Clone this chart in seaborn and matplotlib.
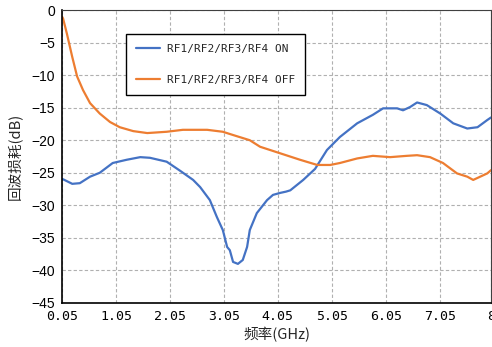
import matplotlib
matplotlib.use("Agg")
import matplotlib.pyplot as plt
import seaborn as sns
import pandas as pd

# Return loss, all four RF paths switched ON
freq_on = [0.05, 0.07, 0.24, 0.38, 0.57, 0.75, 0.99, 1.25, 1.50, 1.68, 1.99, 2.24,
           2.48, 2.61, 2.79, 2.92, 3.03, 3.11, 3.16, 3.22, 3.31, 3.40, 3.48, 3.53,
           3.66, 3.85, 3.96, 4.09, 4.20, 4.28, 4.52, 4.74, 4.96, 5.20, 5.52, 5.81,
           6.00, 6.26, 6.37, 6.50, 6.63, 6.81, 7.06, 7.30, 7.56, 7.75, 7.93, 8.00]
rl_on = [-26.0, -26.0, -26.7, -26.6, -25.6, -25.0, -23.5, -23.0, -22.6, -22.7, -23.3, -24.7,
         -26.1, -27.2, -29.2, -31.8, -33.8, -36.4, -36.9, -38.7, -39.0, -38.4, -36.4, -33.8,
         -31.2, -29.2, -28.4, -28.1, -27.9, -27.7, -26.1, -24.4, -21.5, -19.5, -17.4, -16.1,
         -15.1, -15.1, -15.4, -14.9, -14.2, -14.6, -15.9, -17.4, -18.2, -18.0, -16.9, -16.5]

# Return loss, all four RF paths switched OFF
freq_off = [0.05, 0.07, 0.14, 0.24, 0.33, 0.44, 0.57, 0.75, 0.94, 1.12, 1.37, 1.63,
            1.99, 2.29, 2.74, 3.03, 3.22, 3.53, 3.72, 4.09, 4.46, 4.78, 5.02, 5.20,
            5.52, 5.81, 6.13, 6.44, 6.63, 6.87, 7.11, 7.37, 7.56, 7.67, 7.93, 8.00]
rl_off = [-1.0, -1.3, -3.6, -7.2, -10.2, -12.3, -14.3, -15.9, -17.2, -18.0, -18.6, -18.9,
          -18.7, -18.4, -18.4, -18.7, -19.2, -20.0, -21.0, -22.0, -23.0, -23.8, -23.8, -23.5,
          -22.8, -22.4, -22.6, -22.4, -22.3, -22.6, -23.5, -25.1, -25.6, -26.1, -25.1, -24.6]

series_labels = ["RF1/RF2/RF3/RF4 ON", "RF1/RF2/RF3/RF4 OFF"]
x_ticks = [0.05, 1.05, 2.05, 3.05, 4.05, 5.05, 6.05, 7.05, 8]
x_tick_labels = ["0.05", "1.05", "2.05", "3.05", "4.05", "5.05", "6.05", "7.05", "8"]
y_ticks = [0, -5, -10, -15, -20, -25, -30, -35, -40, -45]
x_title = "频率(GHz)"
y_title = "回波损耗(dB)"

df = pd.concat([
    pd.DataFrame({"freq": freq_on, "rl": rl_on, "state": series_labels[0]}),
    pd.DataFrame({"freq": freq_off, "rl": rl_off, "state": series_labels[1]}),
], ignore_index=True)

sns.set_theme(style="white")
plt.rcParams["font.family"] = ["Noto Sans CJK SC", "DejaVu Sans"]

fig = plt.figure(figsize=(4.92, 3.47), dpi=100)
ax = fig.add_axes([0.126, 0.127, 0.872, 0.844])

sns.lineplot(data=df, x="freq", y="rl", hue="state", hue_order=series_labels,
             palette=["#4472C4", "#ED7D31"], estimator=None, sort=False,
             linewidth=1.6, ax=ax)

ax.set_xlim(0.05, 8)
ax.set_ylim(-45, 0)
ax.set_xticks(x_ticks)
ax.set_xticklabels(x_tick_labels, fontfamily="DejaVu Sans Mono", fontsize=9.5)
ax.set_yticks(y_ticks)
ax.set_yticklabels([f"{v}".replace("-", "\u2212") for v in y_ticks],
                   fontfamily="Liberation Sans", fontsize=10)
ax.tick_params(axis="both", length=0, pad=5, colors="black")

ax.grid(True, linestyle=(0, (3, 2)), color="#b0b0b0", linewidth=0.8)
for side in ["left", "bottom"]:
    ax.spines[side].set_color("black")
    ax.spines[side].set_linewidth(1.2)
for side in ["top", "right"]:
    ax.spines[side].set_color("#404040")
    ax.spines[side].set_linewidth(0.8)

ax.set_xlabel(x_title, fontsize=10.5, labelpad=3)
ax.set_ylabel(y_title, fontsize=10.5, labelpad=6)

leg = ax.legend(loc="upper left", bbox_to_anchor=(0.149, 0.918), borderaxespad=0,
                prop={"family": "DejaVu Sans Mono", "size": 8},
                frameon=True, fancybox=False, framealpha=1, edgecolor="black",
                labelspacing=1.9, borderpad=0.9, handlelength=2.2, handletextpad=0.6)
leg.get_frame().set_linewidth(1.0)
leg.set_title(None)

fig.savefig("out.png", dpi=100)
